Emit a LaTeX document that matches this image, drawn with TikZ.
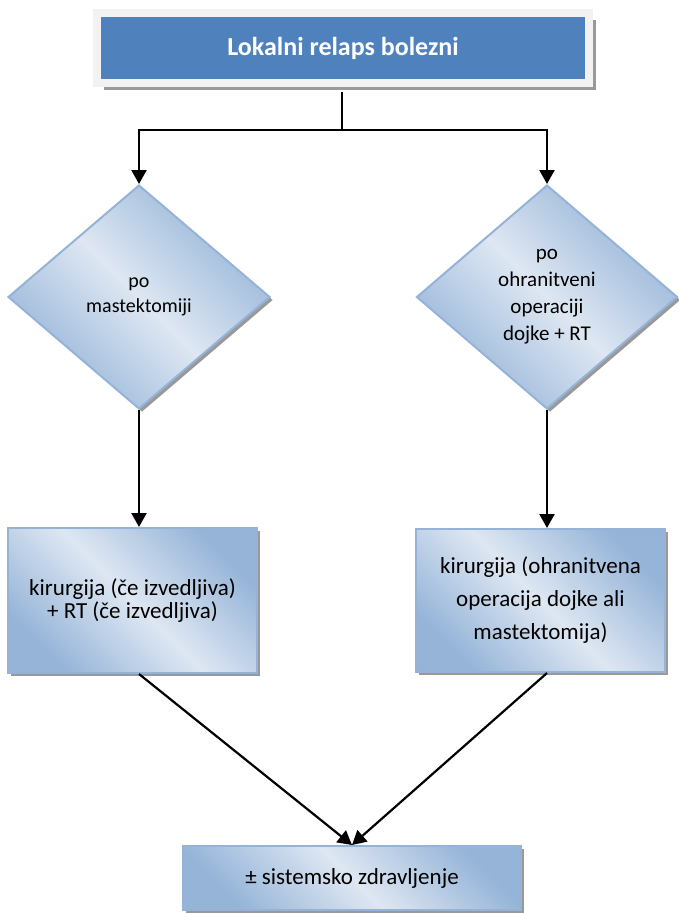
\documentclass[tikz,border=0pt]{standalone}
\usepackage{fontspec}
\setmainfont{Carlito}
\usetikzlibrary{shapes.geometric,shadows,arrows.meta}
\definecolor{okvir}{RGB}{149,179,215}
\definecolor{svetla}{RGB}{222,231,242}
\definecolor{temna}{RGB}{149,180,216}
\definecolor{naslovna}{RGB}{79,129,189}
\definecolor{siva}{RGB}{242,242,242}
\begin{document}
\begin{tikzpicture}[x=1pt,y=-1pt,
    senca/.style={drop shadow={shadow xshift=3pt,shadow yshift=-3pt,fill=black!40,opacity=1}},
    polnilo/.style={top color=temna,bottom color=temna,middle color=svetla,shading angle=-45},
    naslov/.style={rectangle,fill=naslovna,draw=siva,line width=8pt,inner sep=0pt,
      minimum width=492pt,minimum height=70pt,text=white,
      font=\bfseries\fontsize{26}{31}\selectfont,
      drop shadow={shadow xshift=7pt,shadow yshift=-7pt,fill=black!40,opacity=1}},
    odlocitev/.style={diamond,senca,polnilo,draw=okvir,line width=2pt,inner sep=0pt,align=center},
    korak/.style={rectangle,senca,polnilo,draw=okvir,line width=2pt,inner sep=0pt,align=center},
    tok/.style={line width=2.2pt,-{Triangle[length=14pt,width=15pt]}}]
\useasboundingbox (0,0) rectangle (678,913);
\node[naslov] (lokalni) at (343,48) {Lokalni relaps bolezni};
\node[odlocitev,minimum width=262pt,minimum height=224pt,font=\fontsize{20}{24.5}\selectfont]
  (mastek) at (139,297) {po\\mastektomiji};
\node[odlocitev,minimum width=261pt,minimum height=224pt,font=\fontsize{21}{27}\selectfont]
  (ohran) at (547,297) {po\\ohranitveni\\operaciji\\dojke + RT};
\node[korak,minimum width=249pt,minimum height=145pt,font=\fontsize{23}{23}\selectfont]
  (kirL) at (132.5,600.5) {kirurgija (če izvedljiva)\\+ RT (če izvedljiva)};
\node[korak,minimum width=249pt,minimum height=143pt,font=\fontsize{23}{33}\selectfont]
  (kirR) at (540.5,600.5) {kirurgija (ohranitvena\\operacija dojke ali\\mastektomija)};
\node[korak,minimum width=338pt,minimum height=64pt,font=\fontsize{23}{28}\selectfont]
  (sistem) at (352,878) {± sistemsko zdravljenje};
\coordinate (razcep) at (342,130);
\draw[line width=2.2pt,shorten <=5pt] (lokalni.south -| razcep) -- (razcep);
\draw[tok] (razcep) -| (mastek.north);
\draw[tok] (razcep) -| (ohran.north);
\draw[tok] (mastek.south) -- (mastek.south |- kirL.north);
\draw[tok] (ohran.south) -- (ohran.south |- kirR.north);
\draw[tok] (kirL.south -| mastek.south) -- (sistem.north);
\draw[tok] (kirR.south -| ohran.south) -- (sistem.north);
\end{tikzpicture}
\end{document}
